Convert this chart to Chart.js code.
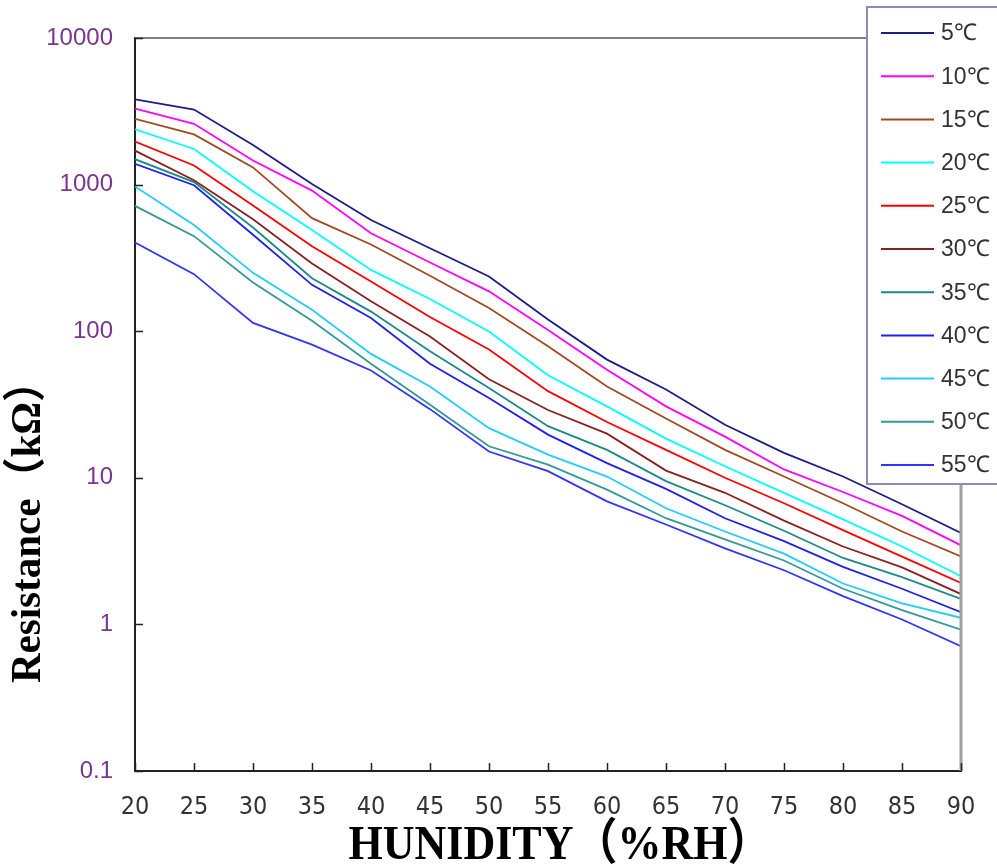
<!DOCTYPE html>
<html>
<head>
<meta charset="utf-8">
<title>Resistance vs Humidity</title>
<script src="https://cdn.jsdelivr.net/npm/chart.js@4.4.1/dist/chart.umd.min.js"></script>
<style>
  html, body { margin: 0; padding: 0; background: #fff; }
  #wrap { width: 997px; height: 865px; position: relative; }
</style>
</head>
<body>
<div id="wrap"><canvas id="chart"></canvas></div>
<script>
// humidity (%RH) sample points
const HUMIDITY = [20, 25, 30, 35, 40, 45, 50, 55, 60, 65, 70, 75, 80, 85, 90];

// resistance in kOhm per temperature
const R_5C  = [3820, 3250, 1865, 1010, 574, 368, 236, 120, 64, 40, 23, 14.8, 10.2, 6.6, 4.2];
const R_10C = [3300, 2600, 1460, 910, 466, 294, 187, 102, 54.6, 30.7, 19.1, 11.4, 8.0, 5.5, 3.46];
const R_15C = [2805, 2200, 1310, 590, 390, 239, 144, 79, 42, 25.4, 15.5, 10.2, 6.7, 4.3, 2.91];
const R_20C = [2385, 1750, 900, 490, 262, 166, 99.5, 50, 30.7, 18.5, 12, 7.9, 5.2, 3.4, 2.13];
const R_25C = [1965, 1350, 720, 380, 218, 125, 75, 39, 24, 15.5, 10, 6.7, 4.4, 2.9, 1.92];
const R_30C = [1705, 1070, 580, 290, 160, 92, 47, 29, 20, 11.2, 7.9, 5.1, 3.4, 2.45, 1.61];
const R_35C = [1490, 1040, 510, 230, 136, 73, 41, 22.5, 15.5, 9.5, 6.5, 4.35, 2.84, 2.1, 1.49];
const R_40C = [1385, 990, 455, 207, 123, 60, 35, 19.7, 12.6, 8.4, 5.3, 3.7, 2.47, 1.75, 1.21];
const R_45C = [970, 530, 250, 140, 70, 42, 21.8, 14.4, 10.2, 6.2, 4.3, 3.04, 1.9, 1.39, 1.11];
const R_50C = [716, 445, 215, 118, 60, 31.5, 16.4, 12.3, 8.3, 5.3, 3.8, 2.73, 1.75, 1.25, 0.92];
const R_55C = [403, 245, 114, 81, 54, 29.4, 15.1, 11.1, 6.9, 4.8, 3.3, 2.34, 1.56, 1.08, 0.71];

const SERIES_LABELS = ["5℃", "10℃", "15℃", "20℃", "25℃", "30℃", "35℃", "40℃", "45℃", "50℃", "55℃"];
const SERIES_VALUES = [R_5C, R_10C, R_15C, R_20C, R_25C, R_30C, R_35C, R_40C, R_45C, R_50C, R_55C];
const SERIES_COLORS = [
  "#1c1c8a", "#ff00ff", "#a04a20", "#00ffff", "#ff0000", "#8b2020",
  "#1a8a8a", "#1f1ff0", "#22ccff", "#339999", "#3333ff",
];

const X_TICKS = [20, 25, 30, 35, 40, 45, 50, 55, 60, 65, 70, 75, 80, 85, 90];
const Y_TICKS = [0.1, 1, 10, 100, 1000, 10000];

const X_TITLE = "HUNIDITY（%RH）";
const Y_TITLE = "Resistance（kΩ）";

const PLOT = { left: 135, right: 961, top: 38, bottom: 771 };
const LEGEND_BOX = { left: 867, top: 7, bottom: 484 };

// frame lines, inner tick marks
const framePlugin = {
  id: "frame",
  afterDraw(chart) {
    const { ctx, chartArea: a, scales } = chart;
    ctx.save();
    ctx.strokeStyle = "#808080";
    ctx.lineWidth = 2;
    ctx.beginPath();
    ctx.moveTo(a.left, a.top);
    ctx.lineTo(LEGEND_BOX.left, a.top);
    ctx.stroke();
    ctx.strokeStyle = "#a0a0a0";
    ctx.lineWidth = 3;
    ctx.beginPath();
    ctx.moveTo(a.right, LEGEND_BOX.bottom);
    ctx.lineTo(a.right, a.bottom);
    ctx.stroke();

    ctx.strokeStyle = "#222";
    ctx.lineWidth = 1.5;
    ctx.beginPath();
    Y_TICKS.forEach((v) => {
      const y = Math.round(scales.y.getPixelForValue(v)) + 0.5;
      ctx.moveTo(a.left, y);
      ctx.lineTo(a.left + 8, y);
    });
    X_TICKS.forEach((v) => {
      const x = Math.round(scales.x.getPixelForValue(v)) + 0.5;
      ctx.moveTo(x, a.bottom);
      ctx.lineTo(x, a.bottom - 8);
    });
    ctx.stroke();
    ctx.restore();
  },
};

// boxed legend sitting over the top right corner
const legendPlugin = {
  id: "boxLegend",
  afterDraw(chart) {
    const { ctx, width } = chart;
    ctx.save();
    ctx.fillStyle = "#fff";
    ctx.fillRect(LEGEND_BOX.left, LEGEND_BOX.top, width, LEGEND_BOX.bottom - LEGEND_BOX.top);
    ctx.strokeStyle = "#8c8cb8";
    ctx.lineWidth = 2;
    ctx.strokeRect(LEGEND_BOX.left, LEGEND_BOX.top, width, LEGEND_BOX.bottom - LEGEND_BOX.top);

    ctx.font = '23px "Liberation Sans", Arial, sans-serif';
    ctx.textBaseline = "middle";
    ctx.textAlign = "left";
    chart.data.datasets.forEach((ds, i) => {
      const y = 33 + i * 43.2;
      ctx.strokeStyle = ds.borderColor;
      ctx.lineWidth = 2;
      ctx.beginPath();
      ctx.moveTo(881, y);
      ctx.lineTo(934, y);
      ctx.stroke();
      ctx.fillStyle = "#333";
      ctx.fillText(ds.label, 941, y + 1);
    });
    ctx.restore();
  },
};

// serif axis titles, drawn a bit taller than wide like the original
const titlePlugin = {
  id: "axisTitles",
  afterDraw(chart) {
    const { ctx, chartArea: a } = chart;
    ctx.save();
    ctx.fillStyle = "#000";
    ctx.textAlign = "center";
    ctx.textBaseline = "middle";

    ctx.save();
    ctx.translate(29, 522);
    ctx.rotate(-Math.PI / 2);
    ctx.scale(1, 1.05);
    ctx.font = 'bold 41px "Liberation Serif", "Times New Roman", "Noto Sans CJK SC", serif';
    ctx.fillText(Y_TITLE, 0, 0);
    ctx.restore();

    ctx.save();
    ctx.translate((a.left + a.right) / 2 + 12, 846);
    ctx.scale(1, 1.12);
    ctx.font = 'bold 44px "Liberation Serif", "Times New Roman", "Noto Sans CJK SC", serif';
    ctx.fillText(X_TITLE, 0, 0);
    ctx.restore();

    ctx.restore();
  },
};

const datasets = SERIES_VALUES.map((vals, i) => ({
  label: SERIES_LABELS[i],
  data: HUMIDITY.map((h, j) => ({ x: h, y: vals[j] })),
  borderColor: SERIES_COLORS[i],
  backgroundColor: SERIES_COLORS[i],
  borderWidth: 1.8,
  pointRadius: 0,
  tension: 0,
  fill: false,
}));

new Chart(document.getElementById("chart"), {
  type: "line",
  data: { datasets },
  options: {
    responsive: true,
    maintainAspectRatio: false,
    animation: false,
    layout: { padding: { left: 0, top: PLOT.top, right: 997 - PLOT.right, bottom: 0 } },
    plugins: { legend: { display: false }, tooltip: { enabled: false } },
    scales: {
      x: {
        type: "linear",
        min: 20,
        max: 90,
        afterBuildTicks: (s) => { s.ticks = X_TICKS.map((v) => ({ value: v })); },
        afterFit: (s) => { s.height = 865 - PLOT.bottom; },
        grid: { display: false },
        border: { display: true, color: "#222", width: 2 },
        ticks: {
          padding: 13,
          color: "#333",
          font: { family: '"Liberation Sans Narrow", "DejaVu Sans Condensed", Arial, sans-serif', size: 25 },
        },
      },
      y: {
        type: "logarithmic",
        min: 0.1,
        max: 10000,
        afterBuildTicks: (s) => { s.ticks = Y_TICKS.map((v) => ({ value: v })); },
        afterFit: (s) => { s.width = PLOT.left; },
        grid: { display: false },
        border: { display: true, color: "#222", width: 2 },
        ticks: {
          padding: 14,
          color: "#7a3591",
          font: { family: '"Liberation Sans", Arial, sans-serif', size: 24 },
          callback: (v) => String(v),
        },
      },
    },
  },
  plugins: [framePlugin, legendPlugin, titlePlugin],
});
</script>
</body>
</html>
